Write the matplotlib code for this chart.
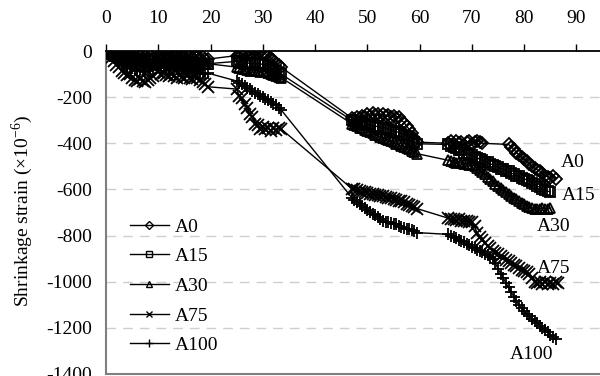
import matplotlib
matplotlib.use("Agg")
import matplotlib.pyplot as plt

plt.rcParams['font.family'] = ['Liberation Serif', 'DejaVu Serif']
plt.rcParams['mathtext.fontset'] = 'custom'
plt.rcParams['mathtext.rm'] = 'Liberation Serif'

# ---------------- data (days, strain x1e-6) ----------------
days_p1 = [0, 0.5, 1, 1.5, 2, 2.5, 3, 3.5, 4, 4.5, 5, 5.5, 6, 6.5, 7, 7.5, 8, 8.5, 9]
days_p2 = [10, 10.5, 11, 11.5, 12, 12.5, 13, 13.5, 14, 14.5, 15, 15.5, 16, 16.5, 17, 17.5, 18, 18.5, 19, 19.5]
days_p3 = [25, 25.5, 26, 26.5, 27, 27.5, 28, 28.5, 29, 29.5, 30, 30.5, 31, 31.5, 32, 32.5, 33, 33.5]
days_p4 = [47, 47.5, 48, 48.5, 49, 49.5, 50, 50.5, 51, 51.5, 52, 52.5, 53, 53.5, 54, 54.5,
           55, 55.5, 56, 56.5, 57, 57.5, 58, 58.5, 59, 59.5]
days_p5 = [65.5, 66, 66.5, 67, 67.5, 68, 68.5, 69, 69.5, 70, 70.5, 71, 71.5, 72, 72.5, 73,
           73.5, 74, 74.5, 75, 75.5, 76, 76.5, 77, 77.5, 78, 78.5, 79, 79.5, 80, 80.5, 81,
           81.5, 82, 82.5, 83, 83.5, 84, 84.5, 85, 85.5, 86, 86.5]
days_p5_a0 = [65.5, 66, 66.5, 67, 67.5, 68, 68.5, 69, 69.5, 70, 70.5, 71, 71.5, 72,
              77, 77.5, 78, 78.5, 79, 79.5, 80, 80.5, 81, 81.5, 82, 82.5, 83, 83.5, 84,
              84.5, 85, 85.5, 86]

a0_p1 = [0, -5, -8, -12, -10, -15, -18, -14, -20, -22, -18, -25, -28, -24, -30, -27, -32, -35, -30]
a0_p2 = [-5, -8, -6, -10, -12, -9, -14, -16, -13, -18, -20, -17, -22, -25, -22, -28, -30, -27, -33, -35]
a0_p3 = [-20, -22, -18, -15, -20, -17, -12, -15, -10, -5, -8, -12, -20, -30, -40, -50, -60, -70]
a0_p4 = [-290, -295, -285, -290, -280, -288, -275, -282, -270, -278, -272, -280, -275, -282,
         -278, -285, -280, -290, -285, -300, -310, -325, -340, -355, -375, -395]
a0_p5 = [-400, -392, -405, -388, -398, -394, -408, -396, -390, -402, -395, -388, -396, -400,
         -405, -415, -425, -440, -450, -460, -470, -478, -490, -500, -508, -515, -520, -530,
         -540, -545, -550, -540, -555]

a15_p1 = [0, -8, -12, -15, -18, -20, -22, -25, -28, -26, -30, -33, -35, -38, -36, -40, -42, -45, -44]
a15_p2 = [-30, -35, -32, -38, -40, -37, -42, -45, -43, -48, -50, -47, -52, -54, -50, -55, -57, -55, -58, -55]
a15_p3 = [-45, -50, -48, -52, -50, -55, -52, -56, -54, -58, -56, -60, -65, -72, -80, -88, -95, -100]
a15_p4 = [-300, -305, -310, -312, -308, -315, -320, -318, -325, -328, -325, -332, -335, -332,
          -340, -342, -345, -350, -352, -358, -362, -368, -375, -385, -395, -402]
a15_p5 = [-405, -412, -415, -422, -428, -430, -440, -442, -450, -452, -460, -462, -470, -472,
          -480, -482, -490, -492, -500, -503, -510, -512, -520, -522, -530, -533, -540, -543,
          -550, -553, -560, -563, -572, -577, -586, -591, -600, -602, -608, -610]

a30_p1 = [0, -10, -15, -20, -18, -25, -28, -30, -35, -32, -38, -40, -42, -45, -48, -46, -50, -52, -55]
a30_p2 = [-45, -50, -48, -52, -55, -52, -58, -60, -56, -60, -62, -58, -62, -64, -60, -62, -60, -58, -56, -55]
a30_p3 = [-70, -75, -80, -78, -82, -85, -82, -88, -85, -90, -88, -92, -95, -98, -102, -108, -112, -115]
a30_p4 = [-315, -322, -325, -333, -335, -342, -345, -352, -355, -362, -365, -372, -375, -382,
          -385, -392, -395, -402, -405, -412, -415, -422, -425, -434, -438, -445]
a30_p5 = [-474, -478, -480, -484, -482, -487, -490, -488, -492, -495, -498, -505, -515, -525,
          -535, -545, -555, -565, -575, -585, -595, -603, -612, -620, -628, -636, -643, -650,
          -657, -663, -670, -676, -682, -684, -683, -684, -682, -684, -683, -682]

a75_p1 = [0, -15, -30, -45, -60, -70, -85, -95, -105, -100, -115, -125, -130, -120, -128, -135, -125, -118, -110]
a75_p2 = [-90, -100, -95, -105, -110, -100, -108, -115, -105, -112, -118, -110, -115, -120,
          -112, -118, -125, -135, -145, -155]
a75_p3 = [-165, -195, -205, -230, -245, -275, -285, -315, -320, -338, -328, -340, -332, -345,
          -333, -342, -332, -338]
a75_p4 = [-596, -600, -604, -607, -610, -612, -615, -618, -620, -622, -625, -628, -630, -632,
          -635, -638, -640, -645, -648, -652, -656, -662, -668, -672, -678, -683]
a75_p5 = [-725, -728, -730, -732, -730, -735, -738, -736, -740, -742, -760, -790, -805, -820,
          -832, -845, -855, -866, -875, -882, -890, -897, -904, -912, -920, -927, -934, -941,
          -948, -955, -960, -965, -985, -1000, -1005, -1000, -1008, -1003, -1010, -1005,
          -1008, -1002, -1005]

a100_p1 = [0, -10, -20, -30, -40, -50, -55, -60, -70, -65, -75, -80, -85, -80, -88, -90, -85, -82, -80]
a100_p2 = [-60, -70, -65, -72, -78, -70, -75, -80, -72, -78, -85, -80, -85, -90, -85, -90,
           -95, -98, -100, -96]
a100_p3 = [-130, -138, -145, -152, -160, -165, -172, -180, -186, -193, -200, -207, -213, -220,
           -228, -235, -245, -255]
a100_p4 = [-635, -645, -655, -662, -670, -680, -688, -697, -705, -712, -720, -728, -735, -740,
           -743, -745, -748, -752, -758, -762, -768, -772, -770, -778, -782, -787]
a100_p5 = [-795, -800, -805, -812, -818, -825, -830, -837, -843, -850, -856, -862, -868, -873,
           -880, -886, -893, -900, -920, -945, -965, -985, -1005, -1025, -1045, -1065, -1085,
           -1100, -1115, -1128, -1140, -1150, -1160, -1170, -1180, -1190, -1200, -1210, -1220,
           -1230, -1240, -1250]

series_names = ['A0', 'A15', 'A30', 'A75', 'A100']
x_ticks = [0, 10, 20, 30, 40, 50, 60, 70, 80, 90]
y_ticks = [0, -200, -400, -600, -800, -1000, -1200, -1400]

# ---------------- assemble ----------------
common = days_p1 + days_p2 + days_p3 + days_p4
series = {
    'A0': (common + days_p5_a0, a0_p1 + a0_p2 + a0_p3 + a0_p4 + a0_p5, 'D', 6.5),
    'A15': (common + days_p5[:len(a15_p5)], a15_p1 + a15_p2 + a15_p3 + a15_p4 + a15_p5, 's', 7.5),
    'A30': (common + days_p5[:len(a30_p5)], a30_p1 + a30_p2 + a30_p3 + a30_p4 + a30_p5, '^', 7.5),
    'A75': (common + days_p5[:len(a75_p5)], a75_p1 + a75_p2 + a75_p3 + a75_p4 + a75_p5, 'x', 8),
    'A100': (common + days_p5[:len(a100_p5)], a100_p1 + a100_p2 + a100_p3 + a100_p4 + a100_p5, '+', 9),
}

fig = plt.figure(figsize=(6.0, 3.76), dpi=100)
ax = fig.add_axes([106 / 600, 2 / 376, 494 / 600, 323 / 376])

for name in series_names:
    d, v, m, ms = series[name]
    ax.plot(d, v, color='black', lw=1.0, marker=m, ms=ms, mfc='none', mec='black',
            mew=1.3, label=name, zorder=3)

ax.set_xlim(0, 94.5)
ax.set_ylim(-1400, 0)
ax.xaxis.tick_top()
ax.set_xticks(x_ticks)
ax.set_yticks(y_ticks)
ax.tick_params(axis='x', direction='out', length=5, width=1, pad=12, labelsize=14, colors='black')
ax.tick_params(axis='y', length=0, pad=10, labelsize=14)
ax.set_yticklabels([str(v) for v in y_ticks])

for yv in y_ticks[1:-1]:
    ax.axhline(yv, color='#cfcfcf', lw=1.0, ls=(0, (7, 5)), zorder=1)

ax.spines['right'].set_visible(False)
ax.spines['top'].set_color('black')
ax.spines['top'].set_linewidth(1.3)
ax.spines['left'].set_color('#7f7f7f')
ax.spines['left'].set_linewidth(1.5)
ax.spines['bottom'].set_color('#7f7f7f')
ax.spines['bottom'].set_linewidth(1.5)

fig.text(22 / 600, 1 - 211 / 376, 'Shrinkage strain (\u00d710$^{-6}$)', rotation=90,
         ha='center', va='center', fontsize=14)

ax.text(87.0, -483, 'A0', fontsize=14, ha='left', va='center')
ax.text(87.2, -626, 'A15', fontsize=14, ha='left', va='center')
ax.text(82.4, -761, 'A30', fontsize=14, ha='left', va='center')
ax.text(82.4, -944, 'A75', fontsize=14, ha='left', va='center')
ax.text(77.2, -1314, 'A100', fontsize=14, ha='left', va='center')

leg = ax.legend(loc='upper left', bbox_to_anchor=(130 / 600, 1 - 218 / 376),
                bbox_transform=fig.transFigure, frameon=False, fontsize=14,
                handlelength=2.0, handletextpad=0.3, labelspacing=0.62, borderpad=0,
                borderaxespad=0, markerscale=0.6)
for h in leg.get_lines():
    h.set_markeredgewidth(1.0)

fig.savefig('out.png', dpi=100)
